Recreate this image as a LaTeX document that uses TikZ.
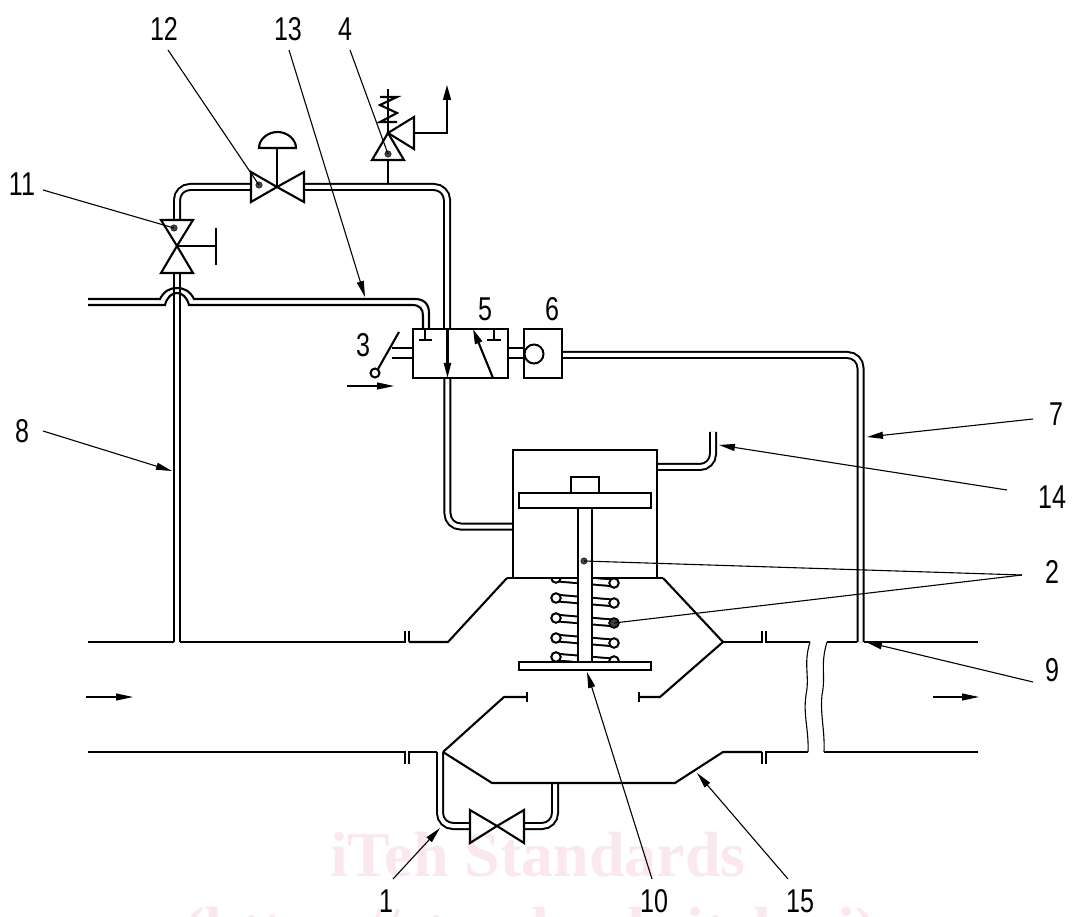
\documentclass[tikz,border=0pt]{standalone}
\usepackage{fontspec}
\setmainfont[FakeStretch=0.76]{Liberation Sans}
\newfontfamily\wmfont{Liberation Serif}
\usetikzlibrary{arrows.meta}
\definecolor{wmpink}{RGB}{251,232,238}
\definecolor{dotgray}{RGB}{70,70,70}
\tikzset{
  thick line/.style={line width=2.1pt,line join=miter,black},
  pipe/.style={line width=2pt,double=white,double distance=4pt,rounded corners=13pt,black},
  stub/.style={line width=2pt,double=white,double distance=8pt,black},
  coil/.style={line width=2pt,double=white,double distance=4.6pt,black},
  thin line/.style={line width=1.1pt,black},
  leader/.style={line width=1.1pt,black,-{Triangle[length=16pt,width=7pt]}},
  plain leader/.style={line width=1.1pt,black},
  flow/.style={line width=1.1pt,black,-{Triangle[length=17pt,width=7pt]}},
  tag/.style={inner sep=0pt,font=\fontsize{33}{33}\selectfont},
  dotmark/.style={circle,fill=dotgray,draw=black,line width=.4pt,inner sep=0pt,minimum size=6.5pt},
  boxw/.style={thick line,fill=white},
  curl/.style={circle,draw=black,line width=2pt,fill=white,inner sep=0pt,minimum size=9.5pt},
}
\begin{document}
\begin{tikzpicture}[x=1pt,y=-1pt]
\useasboundingbox (0,0) rectangle (1072,917);
% watermark
\begin{scope}
\clip (0,0) rectangle (1072,917);
\node[inner sep=0pt,anchor=base,text=wmpink,font=\wmfont\bfseries\fontsize{64}{64}\selectfont] (wm1) at (538,876) {iTeh Standards};
\node[inner sep=0pt,anchor=base,text=wmpink,font=\wmfont\bfseries\fontsize{64}{64}\selectfont] (wm2) at (530,951) {(https://standards.iteh.ai)};
\end{scope}

% named points
\coordinate (v12) at (277,187);
\coordinate (v11) at (177,246);
\coordinate (v4) at (388,133);
\coordinate (v1) at (497,826);

% pipes
\draw[pipe] (177,642) -- (177,273);
\draw[pipe] (177,220) -- (177,187) -- (251,187);
\draw[pipe] (304,187) -- (447,187) -- (447.5,526.5) -- (513,526.5);
\draw[pipe] (562,355) -- (860.5,355) -- (860.5,642);
\draw[pipe] (657,467) -- (713,467) -- (713,432);
\draw[pipe] (440,752) -- (440,826) -- (470,826);
\draw[pipe] (524,826) -- (555,826) -- (555,783);

% pipe 13 with its jump over pipe 8
\draw[thick line] (88,299) -- (160,299) .. controls (164,291) and (170,288) .. (177,288) .. controls (184,288) and (190,291) .. (194,299) -- (415,299) .. controls (424,299) and (429,304) .. (429,313) -- (429,329);
\draw[thick line] (88,305) -- (165,305) .. controls (167,297) and (172,293) .. (177,293) .. controls (182,293) and (187,297) .. (189,305) -- (412,305) .. controls (420,305) and (423,309) .. (423,316) -- (423,329);

% valve 12
\draw[thick line] (277,187) -- (251,172) -- (251,202) -- cycle;
\draw[thick line] (277,187) -- (304,172) -- (304,202) -- cycle;
\draw[thick line] (v12) -- (277,148);
\draw[thick line] (259,148) -- (296,148) .. controls (296,139) and (287,132) .. (277.5,132) .. controls (268,132) and (259,139) .. (259,148) -- cycle;

% valve 11
\draw[thick line] (v11) -- (161,220) -- (193,220) -- cycle;
\draw[thick line] (v11) -- (161,273) -- (193,273) -- cycle;
\draw[thick line] (v11) -- (216,246);
\draw[thick line] (216,228) -- (216,265);

% valve 4
\draw[thick line] (388,184) -- (388,160);
\draw[thick line] (v4) -- (372,160) -- (404,160) -- cycle;
\draw[thick line] (v4) -- (414,117) -- (414,149) -- cycle;
\draw[thick line] (v4) -- (388,89);
\draw[thick line] (380,97) -- (397,97) -- (380,105) -- (397,113) -- (380,122) -- (397,122);
\draw[line width=1.4pt,-{Triangle[length=15pt,width=8pt]}] (414,133) -- (447,133) -- (447,85);

% valve 1
\draw[thick line] (v1) -- (470,810) -- (470,843) -- cycle;
\draw[thick line] (v1) -- (524,810) -- (524,843) -- cycle;

% stubs at 5 and 6
\draw[stub] (392,353) -- (413,353);
\draw[stub] (508,353) -- (526,353);

% lever 3
\draw[thick line] (378,369) -- (399,332);
\node[curl,minimum size=9pt] (lever) at (375,373) {};

% box 5
\draw[boxw] (413,329) rectangle (508,378);
\draw[thick line,-{Triangle[length=15pt,width=7pt]}] (447.5,329) -- (447.5,378);
\draw[thick line] (425,329) -- (425,340) (419,340) -- (432,340);
\draw[thick line] (494,329) -- (494,340) (487,340) -- (501,340);
\draw[thick line,-{Triangle[length=15pt,width=7.5pt]}] (493,378) -- (473,329);

% box 6
\draw[boxw] (524,329) rectangle (562,378);
\node[circle,draw=black,line width=2pt,fill=white,inner sep=0pt,minimum size=19pt] (ball) at (534,354) {};

% spring
\draw[coil] (556,578) -- (614,583);
\draw[coil] (556,598) -- (614,603);
\draw[coil] (556,618) -- (614,623);
\draw[coil] (556,638) -- (614,643);
\draw[coil] (556,657) -- (614,662);
\foreach \n/\px/\py in {a/556/598,b/556/618,c/556/638,d/556/657,e/614/583,f/614/603,g/614/623,h/614/643,i/614/661,j/556/578}{
  \node[curl] (coil\n) at (\px,\py) {};
}

% valve body
\draw[boxw] (513,450) rectangle (657,578);
\draw[thick line] (507,578) -- (663,578);
\draw[thick line] (409,642) -- (448,642) -- (507,578);
\draw[thick line] (663,578) -- (723,642) -- (660,697) -- (639,697);
\draw[thick line] (639,692) -- (639,702);
\draw[thick line] (443,752) -- (504,697) -- (527,697);
\draw[thick line] (527,692) -- (527,702);
\draw[thick line] (443,752) -- (492,783) -- (675,783) -- (723,752) -- (762,752);

% piston
\draw[boxw] (571,477) rectangle (599,493);
\draw[boxw] (519,493) rectangle (651,508);
\draw[boxw] (578,508) rectangle (592,662);
\draw[boxw] (519,662) rectangle (651,670);

% main pipe lines
\draw[thick line] (88,642) -- (174,642);
\draw[thick line] (180,642) -- (405,642) -- (405,631);
\draw[thick line] (409,631) -- (409,642);
\draw[thick line] (723,642) -- (762,642) -- (762,631);
\draw[thick line] (766,631) -- (766,642) -- (810,642);
\draw[thick line] (827,642) -- (857,642);
\draw[thick line] (864,642) -- (978,642);
\draw[thick line] (88,752) -- (405,752) -- (405,764);
\draw[thick line] (409,764) -- (409,752) -- (437,752);
\draw[thick line] (762,752) -- (762,764);
\draw[thick line] (766,764) -- (766,752) -- (808,752);
\draw[thick line] (824,752) -- (978,752);

% break lines
\draw[thin line] (810,642) .. controls (803,665) and (810,675) .. (806,695) .. controls (803,715) and (809,730) .. (808,752);
\draw[thin line] (827,642) .. controls (820,665) and (826,675) .. (822,695) .. controls (820,715) and (825,730) .. (824,752);

% flow arrows
\draw[flow] (347,386) -- (394,386);
\draw[flow] (86,697) -- (133,697);
\draw[flow] (933,697) -- (979,697);

% dots
\node[dotmark] (d12) at (259,185) {};
\node[dotmark] (d11) at (174,228) {};
\node[dotmark] (d4) at (388,154) {};
\node[dotmark] (d2a) at (584,561) {};
\node[dotmark] (d2b) at (614,623) {};

% labels
\node[tag] (t12) at (164,29) {12};
\node[tag] (t13) at (288,29) {13};
\node[tag] (t4) at (345,29) {4};
\node[tag] (t11) at (22,184) {11};
\node[tag] (t3) at (363,345) {3};
\node[tag] (t5) at (485,309) {5};
\node[tag] (t6) at (552,309) {6};
\node[tag] (t8) at (22,431) {8};
\node[tag] (t7) at (1056,414) {7};
\node[tag] (t14) at (1052,497) {14};
\node[tag] (t2) at (1052,572) {2};
\node[tag] (t9) at (1052,670) {9};
\node[tag] (t1) at (386,901) {1};
\node[tag] (t10) at (654,901) {10};
\node[tag] (t15) at (800,901) {15};

% leaders
\coordinate (s12) at (168,50);
\coordinate (s13) at (289,50);
\coordinate (s4) at (350,50);
\coordinate (s11) at (43,190);
\coordinate (s8) at (43,431);
\coordinate (s7) at (1033,419);
\coordinate (s14) at (1007,490);
\coordinate (s2) at (1022,575);
\coordinate (s9) at (1033,682);
\coordinate (s1) at (393,879);
\coordinate (s10) at (652,879);
\coordinate (s15) at (788,879);
\coordinate (e13) at (365,297);
\coordinate (e8) at (172,471);
\coordinate (e7) at (867,437);
\coordinate (e14) at (719,445);
\coordinate (e9) at (866,642);
\coordinate (e1) at (440,828);
\coordinate (e10) at (587,672);
\coordinate (e15) at (697,773);
\draw[plain leader] (s12) -- (d12.center);
\draw[plain leader] (s4) -- (d4.center);
\draw[plain leader] (s11) -- (d11.center);
\draw[plain leader] (s2) -- (d2a.center);
\draw[plain leader] (s2) -- (d2b.center);
\draw[leader] (s13) -- (e13);
\draw[leader] (s8) -- (e8);
\draw[leader] (s7) -- (e7);
\draw[leader] (s14) -- (e14);
\draw[leader] (s9) -- (e9);
\draw[leader] (s1) -- (e1);
\draw[leader] (s10) -- (e10);
\draw[leader] (s15) -- (e15);
\end{tikzpicture}
\end{document}
